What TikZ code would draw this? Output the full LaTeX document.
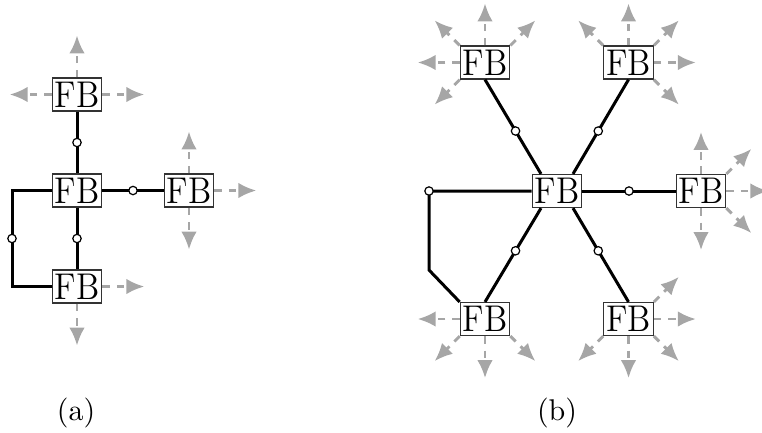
\documentclass[tikz,border=0pt]{standalone}
\usepackage{graphicx}
\usetikzlibrary{arrows.meta,calc}
\newcommand{\fbtext}{\scalebox{0.9}[1]{FB}}
\begin{document}
\begin{tikzpicture}[x=0.3333pt,y=-0.3333pt,
  fb/.style={draw=black!80, line width=0.4pt, fill=white,
    minimum width=16.5pt, minimum height=11pt, inner sep=0pt,
    font=\fontsize{12.4}{14}\selectfont},
  link/.style={line width=1pt, black},
  port/.style={circle, draw=black, fill=white, line width=0.4pt,
    minimum size=2.8pt, inner sep=0pt},
  flow/.style={draw=black!35, line width=0.95pt,
    dash pattern=on 2.5pt off 2.3pt,
    -{Latex[length=6pt,width=5.2pt]}},
  caption/.style={inner sep=0pt, font=\fontsize{10}{12}\selectfont}]
\clip (0,0) rectangle (762,432);

% ---------- (a): tree of four blocks ----------
\node[fb] (a1) at (77,94.5)  {\fbtext};
\node[fb] (a2) at (77,190.5) {\fbtext};
\node[fb] (a3) at (189,190.5) {\fbtext};
\node[fb] (a4) at (77,286.5) {\fbtext};

\draw[link] (a1) -- node[port]{} (a2);
\draw[link] (a2) -- node[port]{} (a3);
\draw[link] (a2) -- node[port]{} (a4);
\coordinate (la1) at (12,190.5);
\coordinate (la2) at (12,286.5);
\draw[link] (a2.west) -- (la1) -- node[port]{} (la2) -- (a4.west);

\draw[flow] (a1.north) -- ++(0,-42);
\draw[flow] (a1.west)  -- ++(-42,0);
\draw[flow] (a1.east)  -- ++(42,0);
\draw[flow] (a3.north) -- ++(0,-42);
\draw[flow] (a3.south) -- ++(0,42);
\draw[flow] (a3.east)  -- ++(42,0);
\draw[flow] (a4.east)  -- ++(42,0);
\draw[flow] (a4.south) -- ++(0,42);

% ---------- (b): star around a central block ----------
\node[fb] (c)  at (557,191)   {\fbtext};
\node[fb] (tl) at (485,62.5)  {\fbtext};
\node[fb] (tr) at (628.5,62.5) {\fbtext};
\node[fb] (r)  at (701,191)   {\fbtext};
\node[fb] (bl) at (485,319)   {\fbtext};
\node[fb] (br) at (628.5,319) {\fbtext};

\draw[link] (c) -- node[port]{} (r);
\draw[link] (tl.south) -- node[port,pos=0.545]{} ($(c.north)+(-16,0)$);
\draw[link] (tr.south) -- node[port,pos=0.545]{} ($(c.north)+(16,0)$);
\draw[link] (bl.north) -- node[port,pos=0.545]{} ($(c.south)+(-16,0)$);
\draw[link] (br.north) -- node[port,pos=0.545]{} ($(c.south)+(16,0)$);
\coordinate (lb1) at (429,191);
\coordinate (lb2) at (429,270);
\draw[link] (c.west) -- (lb1) -- (lb2) -- (bl.north west);
\node[port] at (lb1) {};

% outgoing flows of the outer blocks
\draw[flow] (tl.north) -- ++(0,-42);
\draw[flow] (tl.west)  -- ++(-42,0);
\draw[flow] (tl.north west) -- ++(-25,-25);
\draw[flow] (tl.north east) -- ++(25,-25);
\draw[flow] (tl.south west) -- ++(-25,25);

\draw[flow] (tr.north) -- ++(0,-42);
\draw[flow] (tr.east)  -- ++(42,0);
\draw[flow] (tr.north west) -- ++(-25,-25);
\draw[flow] (tr.north east) -- ++(25,-25);
\draw[flow] (tr.south east) -- ++(25,25);

\draw[flow] (r.north) -- ++(0,-42);
\draw[flow] (r.south) -- ++(0,42);
\draw[flow] (r.east)  -- ++(42,0);
\draw[flow] (r.north east) -- ++(25,-25);
\draw[flow] (r.south east) -- ++(25,25);

\draw[flow] (bl.west)  -- ++(-42,0);
\draw[flow] (bl.south) -- ++(0,42);
\draw[flow] (bl.south west) -- ++(-25,25);
\draw[flow] (bl.south east) -- ++(25,25);

\draw[flow] (br.east)  -- ++(42,0);
\draw[flow] (br.south) -- ++(0,42);
\draw[flow] (br.north east) -- ++(25,-25);
\draw[flow] (br.south west) -- ++(-25,25);
\draw[flow] (br.south east) -- ++(25,25);

% captions
\node[caption] (capa) at (76,413)  {(a)};
\node[caption] (capb) at (557,413) {(b)};
\end{tikzpicture}
\end{document}
